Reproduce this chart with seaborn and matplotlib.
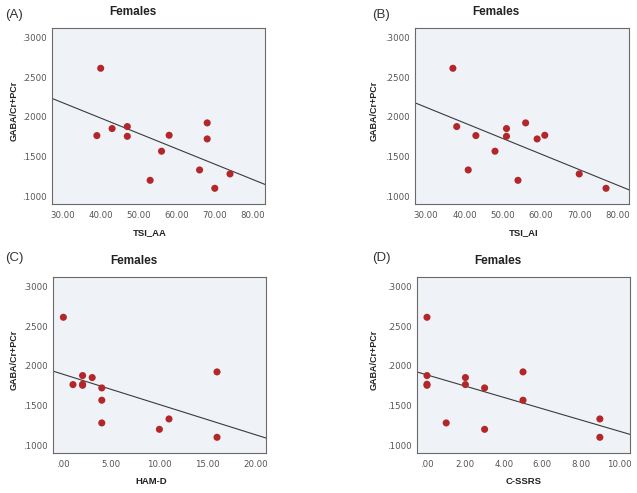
import matplotlib
matplotlib.use("Agg")
import matplotlib.pyplot as plt
import seaborn as sns
from matplotlib.ticker import FuncFormatter, MultipleLocator

# data (13 females per panel)
tsi_aa = [40, 39, 43, 47, 47, 58, 56, 53, 68, 68, 66, 74, 70]
gaba_aa = [0.261, 0.1766, 0.1854, 0.1879, 0.1757, 0.177, 0.157, 0.1205, 0.1925, 0.1724, 0.1335, 0.1285, 0.1105]

tsi_ai = [37, 38, 43, 41, 48, 51, 51, 54, 56, 59, 61, 70, 77]
gaba_ai = [0.261, 0.1879, 0.1766, 0.1335, 0.157, 0.1854, 0.1757, 0.1205, 0.1925, 0.1724, 0.177, 0.1285, 0.1105]

ham_d = [0, 1, 2, 2, 2, 3, 4, 4, 4, 10, 11, 16, 16]
gaba_hamd = [0.261, 0.1766, 0.1879, 0.1757, 0.177, 0.1854, 0.1724, 0.157, 0.1285, 0.1205, 0.1335, 0.1925, 0.1105]

cssrs = [0, 0, 0, 0, 1, 2, 2, 3, 3, 5, 5, 9, 9]
gaba_cssrs = [0.261, 0.1879, 0.177, 0.1757, 0.1285, 0.1854, 0.1766, 0.1724, 0.1205, 0.1925, 0.157, 0.1335, 0.1105]

W, H = 637, 493
BG = "#eff3f8"
DOT = "#b3272a"

panels = [
    # label, x, y, xlabel, xlim, xstep, axes box (left, top, right, bottom px), xlabel pos, panel label pos
    ("(A)", tsi_aa, gaba_aa, "TSI_AA", (27.2, 83.2), 10, (52, 28, 265, 204), 0.46, (14, 15)),
    ("(B)", tsi_ai, gaba_ai, "TSI_AI", (27.1, 83.0), 10, (415, 28, 629, 204), 0.51, (381, 15)),
    ("(C)", ham_d, gaba_hamd, "HAM-D", (-1.08, 21.1), 5, (53, 277, 266, 453), 0.46, (14, 258)),
    ("(D)", cssrs, gaba_cssrs, "C-SSRS", (-0.52, 10.57), 2, (417, 277, 630, 453), 0.50, (381, 258)),
]

sns.set_style("white")
plt.rcParams["font.family"] = ["Liberation Sans", "DejaVu Sans"]

fig = plt.figure(figsize=(W / 100, H / 100), dpi=100)


def fmt_x(v, _):
    s = f"{v:.2f}"
    return s[1:] if s.startswith("0.") else s


def fmt_y(v, _):
    return f"{v:.4f}".lstrip("0")


for tag, xs, ys, xlabel, xlim, xstep, box, xl_pos, tag_pos in panels:
    l, t, r, b = box
    ax = fig.add_axes([l / W, 1 - b / H, (r - l) / W, (b - t) / H])
    ax.set_facecolor(BG)
    ax.set_xlim(*xlim)
    ax.set_ylim(0.0908, 0.3115)
    sns.regplot(
        x=xs,
        y=ys,
        ax=ax,
        ci=None,
        truncate=False,
        scatter_kws=dict(s=26, color=DOT, edgecolor="none", alpha=1, zorder=3),
        line_kws=dict(color="#3a3a3a", linewidth=0.8, zorder=2),
    )
    ax.set_xlim(*xlim)
    ax.set_ylim(0.0908, 0.3115)

    ax.xaxis.set_major_locator(MultipleLocator(xstep))
    ax.yaxis.set_major_locator(MultipleLocator(0.05))
    ax.xaxis.set_major_formatter(FuncFormatter(fmt_x))
    ax.yaxis.set_major_formatter(FuncFormatter(fmt_y))
    ax.tick_params(axis="x", length=0, pad=5, labelsize=6.2, labelcolor="#555555")
    ax.tick_params(axis="y", length=3, width=0.7, color="#666666", pad=1,
                   labelsize=6.2, labelcolor="#555555")
    for lab in ax.get_xticklabels() + ax.get_yticklabels():
        lab.set_family("DejaVu Sans")

    for sp in ax.spines.values():
        sp.set_color("#6a6a6a")
        sp.set_linewidth(0.8)

    ax.set_xlabel(xlabel, fontsize=6.8, fontweight="bold", color="#222222", va="top")
    ax.xaxis.set_label_coords(xl_pos, -0.135)
    ax.set_ylabel("GABA/Cr+PCr", fontsize=6.5, fontweight="bold", color="#222222", va="center")
    ax.yaxis.set_label_coords((14 if l < 300 else 374) / (r - l) - l / (r - l), 0.53)

    ax.text(0.378, 1 + 10 / (b - t), "Females", transform=ax.transAxes,
            ha="center", va="bottom", fontsize=8.5, fontweight="bold", color="#222222")
    fig.text(tag_pos[0] / W, 1 - tag_pos[1] / H, tag, ha="center", va="center",
             fontsize=9.5, color="#333333")

fig.savefig("out.png", dpi=100, facecolor="white")
